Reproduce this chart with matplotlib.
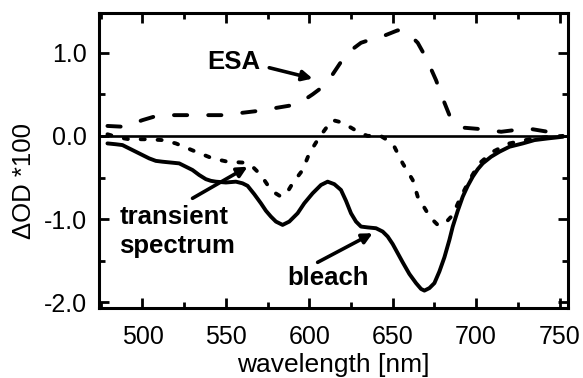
import matplotlib
matplotlib.use("Agg")
import matplotlib.pyplot as plt
import numpy as np

plt.rcParams['font.family'] = ['Liberation Sans', 'DejaVu Sans']

# bleach (solid)
bleach_x = [479, 484, 488, 492, 496, 500, 504, 508, 512, 517, 522, 526, 530, 534, 538, 541, 544, 550,
            556, 560, 563, 567, 571, 574, 577, 580, 584, 588, 593, 597, 602, 607, 611, 615, 619, 622,
            625, 628, 631, 635, 640, 644, 647, 650, 653, 656, 660, 664, 667, 669, 672, 675, 678, 681,
            684, 686, 689, 692, 695, 698, 701, 704, 709, 714, 720, 728, 735, 743, 752]
bleach_y = [-0.09, -0.10, -0.11, -0.15, -0.19, -0.23, -0.27, -0.30, -0.31, -0.32, -0.33, -0.37, -0.41,
            -0.47, -0.52, -0.54, -0.55, -0.56, -0.55, -0.57, -0.60, -0.70, -0.81, -0.90, -0.97, -1.03,
            -1.07, -1.03, -0.93, -0.81, -0.69, -0.59, -0.55, -0.58, -0.65, -0.78, -0.93, -1.03, -1.09,
            -1.10, -1.11, -1.15, -1.21, -1.30, -1.41, -1.52, -1.66, -1.77, -1.84, -1.86, -1.83, -1.77,
            -1.63, -1.46, -1.25, -1.09, -0.90, -0.73, -0.60, -0.49, -0.40, -0.33, -0.25, -0.19, -0.13,
            -0.09, -0.05, -0.03, -0.01]

# transient spectrum (short dash)
trans_x = [479, 486, 492, 502, 512, 520, 526, 532, 542, 551, 560, 566, 571, 575, 579, 583, 587, 590,
           596, 600, 604, 607, 611, 614, 618, 625, 630, 635, 642, 646, 651, 656, 662, 665, 671, 674,
           677, 681, 686, 690, 696, 702, 710, 720, 732, 744, 752]
trans_y = [0.02, -0.02, -0.04, -0.04, -0.05, -0.09, -0.14, -0.19, -0.27, -0.31, -0.32, -0.37, -0.47,
           -0.59, -0.68, -0.73, -0.67, -0.57, -0.41, -0.21, -0.08, 0.01, 0.12, 0.19, 0.17, 0.10, 0.04,
           0.0, 0.01, -0.04, -0.13, -0.33, -0.53, -0.73, -0.93, -1.01, -1.07, -1.06, -0.95, -0.77,
           -0.53, -0.33, -0.19, -0.09, -0.04, -0.01, 0.0]

# excited state absorption (long dash)
esa_x = [479, 489, 500, 510, 526, 548, 569, 590, 596, 602, 608, 612, 616, 620, 625, 631, 637, 643,
         648, 653, 658, 662, 665, 670, 676, 680, 684, 688, 692, 704, 715, 731, 743, 752]
esa_y = [0.12, 0.11, 0.19, 0.25, 0.25, 0.25, 0.30, 0.37, 0.42, 0.50, 0.59, 0.68, 0.80, 0.92, 1.03,
         1.12, 1.16, 1.19, 1.23, 1.27, 1.25, 1.18, 1.12, 0.94, 0.67, 0.45, 0.25, 0.15, 0.10, 0.08,
         0.05, 0.09, 0.05, 0.02]

fig = plt.figure(figsize=(5.83, 3.78), dpi=100)
ax = fig.add_axes([0.170, 0.185, 0.804, 0.781])

ax.axhline(0, color='black', lw=1.9)
ax.plot(bleach_x, bleach_y, color='black', lw=2.8, solid_joinstyle='round', solid_capstyle='round')
ax.plot(trans_x, trans_y, color='black', lw=2.8, dashes=(1.05, 3.3), dash_capstyle='round')
ax.plot(esa_x, esa_y, color='black', lw=2.8, dashes=(3.4, 5.4), dash_capstyle='round')

ax.set_xlim(474, 755)
ax.set_ylim(-2.07, 1.48)
ax.set_xticks([500, 550, 600, 650, 700, 750])
ax.set_xticks(np.arange(475, 756, 25), minor=True)
ax.set_yticks([-2, -1, 0, 1])
ax.set_yticklabels(['-2.0', '-1.0', '0.0', '1.0'])
ax.set_yticks([-1.5, -0.5, 0.5], minor=True)

ax.tick_params(which='both', direction='in', top=True, right=True, width=2, labelsize=18)
ax.tick_params(which='major', length=7.5)
ax.tick_params(which='minor', length=4)
ax.tick_params(axis='y', pad=9)
ax.tick_params(axis='x', pad=12)
for s in ax.spines.values():
    s.set_linewidth(2.2)

ax.set_xlabel('wavelength [nm]', fontsize=19, labelpad=3)
ax.set_ylabel('ΔOD *100', fontsize=18.5)
ax.yaxis.set_label_coords(-0.135, 0.43)

arrow = dict(arrowstyle='-|>', lw=2.6, color='black', mutation_scale=15, shrinkA=0, shrinkB=0)
ax.text(555, 0.89, 'ESA', fontsize=18.5, fontweight='bold', ha='center', va='center')
ax.annotate('', xy=(602, 0.69), xytext=(576, 0.82), arrowprops=arrow)
ax.text(486, -1.15, 'transient\nspectrum', fontsize=18.5, fontweight='bold', ha='left', va='center',
        linespacing=1.25)
ax.annotate('', xy=(563, -0.37), xytext=(530, -0.75), arrowprops=arrow)
ax.text(611, -1.71, 'bleach', fontsize=18.5, fontweight='bold', ha='center', va='center')
ax.annotate('', xy=(638, -1.17), xytext=(605, -1.52), arrowprops=arrow)

fig.savefig('out.png', dpi=100)
